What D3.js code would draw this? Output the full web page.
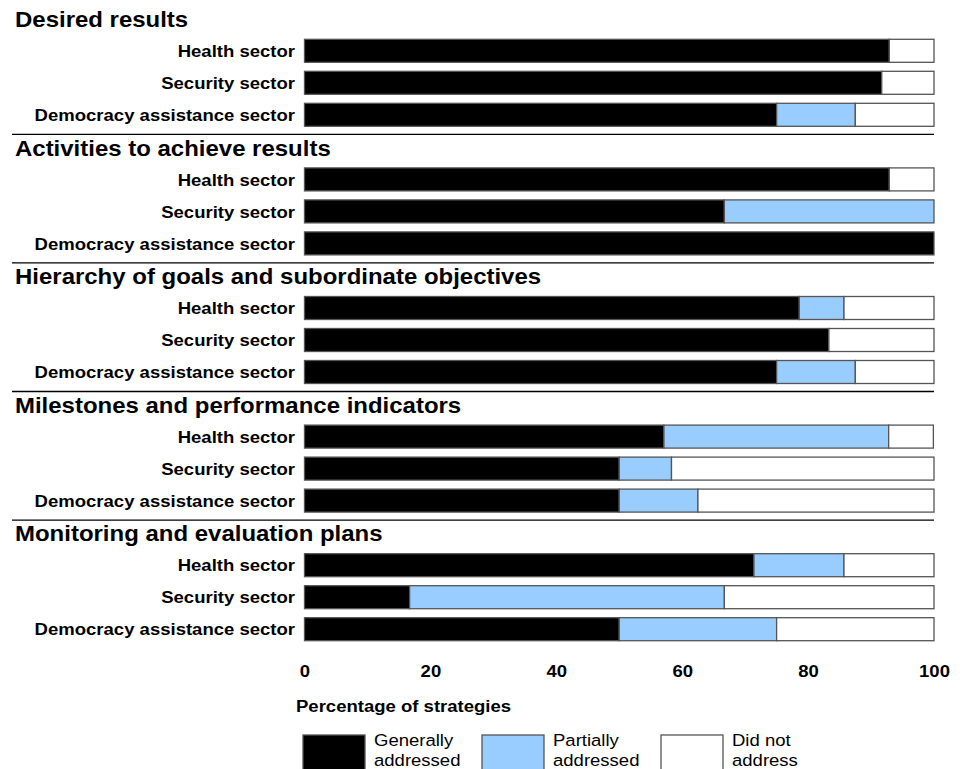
<!DOCTYPE html>
<html>
<head>
<meta charset="utf-8">
<script src="https://cdn.jsdelivr.net/npm/d3@7"></script>
<style>
  body { margin: 0; background: #fff; }
  svg { display: block; font-family: "Liberation Sans", Arial, sans-serif; }
</style>
</head>
<body>
<svg id="chart" width="965" height="769"></svg>
<script>
// Sections (elements of a strategy) and the sectors in each one
const sections = [
  'Desired results',
  'Activities to achieve results',
  'Hierarchy of goals and subordinate objectives',
  'Milestones and performance indicators',
  'Monitoring and evaluation plans'
];
const sectors = ['Health sector', 'Security sector', 'Democracy assistance sector'];
const categories = ['Generally addressed', 'Partially addressed', 'Did not address'];

// Percentage of strategies, one row per section, in sector order
const generally = [
  [92.9, 91.7, 75.0],
  [92.9, 66.7, 100],
  [78.6, 83.3, 75.0],
  [57.1, 50.0, 50.0],
  [71.4, 16.7, 50.0]
];
const partially = [
  [0, 0, 12.5],
  [0, 33.3, 0],
  [7.1, 0, 12.5],
  [35.7, 8.3, 12.5],
  [14.3, 50.0, 25.0]
];
const notAddressed = [
  [7.1, 8.3, 12.5],
  [7.1, 0, 0],
  [14.3, 16.7, 12.5],
  [7.1, 41.7, 37.5],
  [14.3, 33.3, 25.0]
];
const xTicks = [0, 20, 40, 60, 80, 100];

const colors = ['#000000', '#99ccff', '#ffffff'];
const stretch = 1.09; // original lettering is a bit wider than Liberation Sans

const svg = d3.select('#chart');

const x = d3.scaleLinear().domain([0, 100]).range([304.5, 934]);

// section blocks stacked down the page
const ySection = d3.scaleBand().domain(sections).range([0, 5 * 128.6]);
// rows inside a block
const yRow = d3.scaleBand().domain(sectors).range([39.3, 39.3 + 87]).paddingInner(9 / 32);

const rows = [];
sections.forEach((sec, i) => {
  sectors.forEach((s, j) => {
    const vals = [generally[i][j], partially[i][j], notAddressed[i][j]];
    let x0 = 0;
    const segs = vals.map((v, k) => {
      const seg = { k, x0, x1: x0 + v };
      x0 += v;
      return seg;
    });
    rows.push({ section: sec, sector: s, i, segs });
  });
});

// separator lines between sections
svg.append('g')
  .selectAll('line')
  .data(sections.slice(1))
  .join('line')
  .attr('x1', 12)
  .attr('x2', 934)
  .attr('y1', d => ySection(d) + 5.7)
  .attr('y2', d => ySection(d) + 5.7)
  .attr('stroke', '#000')
  .attr('stroke-width', 1.3);

// section titles
svg.append('g')
  .selectAll('text')
  .data(sections)
  .join('text')
  .attr('transform', d => `translate(15,${ySection(d) + 27}) scale(${stretch},1)`)
  .attr('font-size', 22)
  .attr('font-weight', 'bold')
  .attr('fill', '#000')
  .text(d => d);

const rowG = svg.append('g')
  .selectAll('g')
  .data(rows)
  .join('g')
  .attr('transform', d => `translate(0,${ySection(d.section) + yRow(d.sector)})`);

rowG.append('text')
  .attr('transform', `translate(295,${yRow.bandwidth() / 2}) scale(${stretch},1)`)
  .attr('dy', '0.36em')
  .attr('text-anchor', 'end')
  .attr('font-size', 17)
  .attr('font-weight', 'bold')
  .text(d => d.sector);

rowG.selectAll('rect')
  .data(d => d.segs.filter(s => s.x1 - s.x0 > 0))
  .join('rect')
  .attr('x', s => x(s.x0))
  .attr('width', s => x(s.x1) - x(s.x0))
  .attr('y', 0)
  .attr('height', yRow.bandwidth())
  .attr('fill', s => colors[s.k])
  .attr('stroke', '#555')
  .attr('stroke-width', 1.3);

// x axis labels (no axis line in the original)
const axis = svg.append('g')
  .attr('transform', 'translate(0,660)')
  .call(d3.axisBottom(x).tickValues(xTicks).tickSize(0).tickPadding(0));
axis.select('.domain').remove();
axis.selectAll('text')
  .attr('font-family', '"Liberation Sans", Arial, sans-serif')
  .attr('font-size', 17)
  .attr('font-weight', 'bold')
  .attr('fill', '#000')
  .attr('dy', '1em')
  .attr('transform', `scale(${stretch},1)`)
  .attr('x', 0);
axis.selectAll('.tick').each(function(d) {
  d3.select(this).select('text').attr('transform', `scale(${stretch},1)`);
});

svg.append('text')
  .attr('transform', `translate(296,712) scale(${stretch},1)`)
  .attr('font-size', 17)
  .attr('font-weight', 'bold')
  .text('Percentage of strategies');

// legend
const legend = svg.append('g')
  .selectAll('g')
  .data(categories)
  .join('g')
  .attr('transform', (d, i) => `translate(${303 + i * 179},735)`);

legend.append('rect')
  .attr('width', 62)
  .attr('height', 40)
  .attr('fill', (d, i) => colors[i])
  .attr('stroke', '#555')
  .attr('stroke-width', 1.3);

legend.append('text')
  .attr('transform', `translate(71,11) scale(${stretch},1)`)
  .attr('font-size', 17)
  .selectAll('tspan')
  .data(d => d === 'Did not address' ? ['Did not', 'address'] : d.split(' '))
  .join('tspan')
  .attr('x', 0)
  .attr('dy', (t, i) => i === 0 ? 0 : 20)
  .text(t => t);
</script>
</body>
</html>
